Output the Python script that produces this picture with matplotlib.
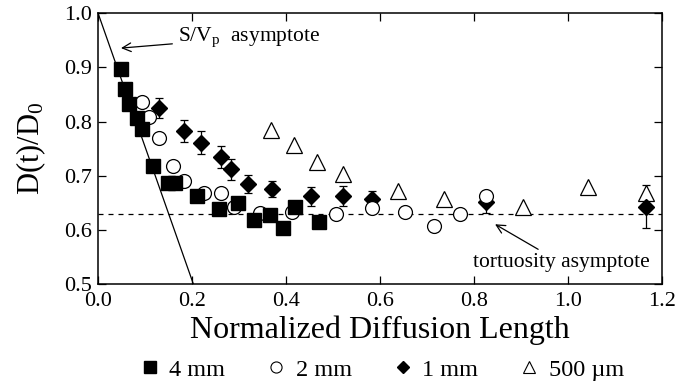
import matplotlib.pyplot as plt
from matplotlib.lines import Line2D

plt.rcParams['font.family'] = ['Liberation Serif', 'DejaVu Serif']
plt.rcParams['mathtext.fontset'] = 'custom'
plt.rcParams['mathtext.rm'] = 'Liberation Serif'
plt.rcParams['mathtext.it'] = 'Liberation Serif'

# 4 mm beads (filled squares)
x_4mm = [0.049, 0.057, 0.066, 0.083, 0.093, 0.116, 0.148, 0.164, 0.210,
         0.258, 0.297, 0.333, 0.366, 0.394, 0.419, 0.471]
y_4mm = [0.897, 0.860, 0.833, 0.806, 0.787, 0.717, 0.687, 0.687, 0.663,
         0.639, 0.649, 0.619, 0.628, 0.603, 0.642, 0.615]

# 2 mm beads (open circles)
x_2mm = [0.093, 0.109, 0.130, 0.160, 0.184, 0.226, 0.262, 0.290, 0.345,
         0.412, 0.506, 0.584, 0.653, 0.715, 0.770, 0.825]
y_2mm = [0.836, 0.808, 0.769, 0.717, 0.691, 0.668, 0.668, 0.643, 0.631,
         0.633, 0.630, 0.640, 0.633, 0.608, 0.630, 0.662]

# 1 mm beads (filled diamonds, with error bars)
x_1mm = [0.130, 0.184, 0.220, 0.262, 0.284, 0.320, 0.370, 0.453, 0.522,
         0.584, 0.825, 1.167]
y_1mm = [0.825, 0.782, 0.761, 0.735, 0.712, 0.685, 0.676, 0.662, 0.663,
         0.657, 0.651, 0.643]
e_1mm = [0.018, 0.020, 0.021, 0.020, 0.019, 0.017, 0.015, 0.018, 0.018,
         0.015, 0.019, 0.039]

# 500 um beads (open triangles)
x_500 = [0.368, 0.418, 0.467, 0.522, 0.638, 0.737, 0.904, 1.043, 1.167]
y_500 = [0.785, 0.757, 0.725, 0.704, 0.672, 0.657, 0.643, 0.679, 0.669]

sv_x = [0.0, 0.203]
sv_y = [1.0, 0.5]
tortuosity = 0.629

fig = plt.figure(figsize=(6.76, 3.85), dpi=100)
ax = fig.add_axes([0.145, 0.262, 0.834, 0.704])

ax.plot(sv_x, sv_y, color='black', lw=0.9)
ax.axhline(tortuosity, color='black', lw=0.9, ls=(0, (4, 4)))

ax.errorbar(x_1mm, y_1mm, yerr=e_1mm, fmt='none', ecolor='black',
            elinewidth=0.9, capsize=3, capthick=0.9, zorder=2)
ax.plot(x_500, y_500, ls='none', marker='^', ms=11, mfc='white',
        mec='black', mew=0.9, zorder=3)
ax.plot(x_1mm, y_1mm, ls='none', marker='D', ms=8.5, mfc='black',
        mec='black', zorder=4)
ax.plot(x_2mm, y_2mm, ls='none', marker='o', ms=10, mfc='white',
        mec='black', mew=0.9, zorder=5)
ax.plot(x_4mm, y_4mm, ls='none', marker='s', ms=10.5, mfc='black',
        mec='black', zorder=6)

ax.annotate('S/V$_\\mathrm{p}$  asymptote', xy=(0.043, 0.935),
            xytext=(0.170, 0.955), fontsize=15.5, va='center',
            arrowprops=dict(arrowstyle='->', color='black', lw=0.9))
ax.annotate('tortuosity asymptote', xy=(0.84, 0.613),
            xytext=(1.175, 0.539), fontsize=15.5, ha='right', va='center',
            arrowprops=dict(arrowstyle='->', color='black', lw=0.9,
                            shrinkA=2))

ax.set_xlim(0, 1.2)
ax.set_ylim(0.5, 1.0)
ax.set_xticks([0.0, 0.2, 0.4, 0.6, 0.8, 1.0, 1.2])
ax.set_yticks([0.5, 0.6, 0.7, 0.8, 0.9, 1.0])
ax.xaxis.set_major_formatter(plt.FormatStrFormatter('%.1f'))
ax.yaxis.set_major_formatter(plt.FormatStrFormatter('%.1f'))
ax.tick_params(direction='in', length=6, width=0.9, labelsize=16,
               top=True, right=True)
ax.tick_params(axis='x', pad=6)
ax.tick_params(axis='y', pad=4)
for s in ax.spines.values():
    s.set_linewidth(1.1)

ax.set_xlabel('Normalized Diffusion Length', fontsize=23, labelpad=3)
ax.set_ylabel('D(t)/D$_\\mathrm{0}$', fontsize=22, labelpad=12)

handles = [
    Line2D([], [], ls='none', marker='s', ms=8, mfc='black', mec='black'),
    Line2D([], [], ls='none', marker='o', ms=8, mfc='white', mec='black',
           mew=0.8),
    Line2D([], [], ls='none', marker='D', ms=6.5, mfc='black', mec='black'),
    Line2D([], [], ls='none', marker='^', ms=8, mfc='white', mec='black',
           mew=0.8),
]
labels = ['4 mm', '2 mm', '1 mm', '500 \u00b5m']
fig.legend(handles, labels, loc='center', bbox_to_anchor=(0.565, 0.040),
           ncol=4, frameon=False, fontsize=17.5, handlelength=0.8,
           handletextpad=0.4, columnspacing=1.7, borderpad=0.1)

fig.savefig('out.png', dpi=100)
